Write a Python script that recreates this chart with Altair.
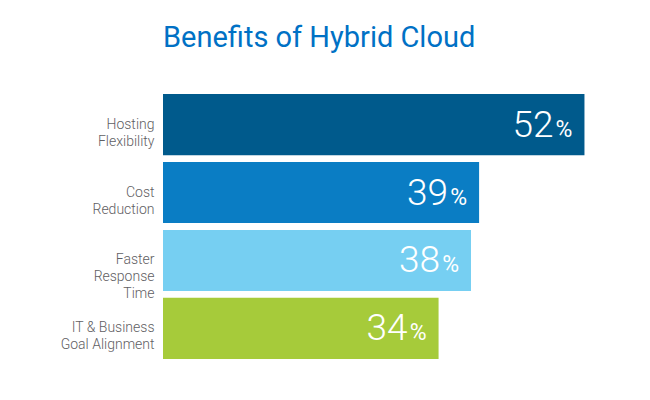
import altair as alt
import pandas as pd

categories = ["Hosting|Flexibility", "Cost|Reduction", "Faster|Response|Time", "IT & Business|Goal Alignment"]
values = [52, 39, 38, 34]
colors = ["#005a8c", "#0a7dc4", "#76cff2", "#a6cb3a"]
pct_sign = ["%", "%", "%", "%"]

df = pd.DataFrame({"category": categories, "value": values, "color": colors, "pct": pct_sign})

y = alt.Y(
    "category:N",
    sort=categories,
    scale=alt.Scale(paddingInner=0.1, paddingOuter=0),
    axis=alt.Axis(
        title=None, domain=False, ticks=False, labelPadding=9,
        labelExpr="split(datum.label, '|')",
        labelFont="Roboto", labelFontSize=14, labelFontWeight=300,
        labelColor="#5f6063", labelLineHeight=17,
    ),
)
x = alt.X("value:Q", scale=alt.Scale(domain=[0, 53.3]), axis=None)

bars = alt.Chart(df).mark_bar().encode(x=x, y=y, color=alt.Color("color:N", scale=None))
num = alt.Chart(df).mark_text(
    align="right", baseline="alphabetic", dx=-31, dy=12,
    fontSize=37, font="Roboto", fontWeight=300, color="white",
).encode(x=x, y=y, text="value:Q")
pct = alt.Chart(df).mark_text(
    align="right", baseline="alphabetic", dx=-12, dy=12,
    fontSize=23, font="Roboto", fontWeight="normal", color="white",
).encode(x=x, y=y, text="pct:N")

chart = alt.layer(bars, num, pct).properties(
    width=432, height=265,
    title=alt.TitleParams(
        "Benefits of Hybrid Cloud", anchor="start", frame="group", font="Roboto",
        fontSize=29, fontWeight="normal", color="#0071c5",
        baseline="alphabetic", offset=18,
    ),
    padding={"left": 155, "top": 86, "right": 30, "bottom": 25},
    autosize="none",
).configure_view(stroke=None)

chart.save("out.html", embed_options={"renderer": "svg", "actions": False})
